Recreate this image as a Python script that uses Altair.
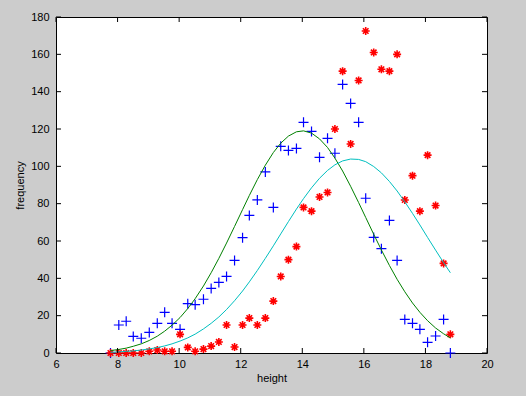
import altair as alt
import pandas as pd
import jinja2

# ---- data ----
x_vals = [7.77, 8.04, 8.28, 8.51, 8.77, 9.03, 9.29, 9.53, 9.77, 10.03,
          10.28, 10.52, 10.79, 11.04, 11.29, 11.54, 11.80, 12.06, 12.28, 12.54,
          12.80, 13.06, 13.30, 13.55, 13.81, 14.04, 14.30, 14.56, 14.82, 15.06,
          15.31, 15.57, 15.83, 16.06, 16.32, 16.57, 16.83, 17.08, 17.33, 17.58,
          17.82, 18.07, 18.33, 18.59, 18.81]

blue_counts = [0, 15, 17, 8.9, 7.9, 11, 15.9, 21.8, 15.9, 12.7,
               26.4, 25.9, 28.8, 34.6, 37.8, 41, 49.6, 61.8, 73.7, 82,
               97, 78, 110.7, 108.5, 109.6, 123.6, 118.7, 104.8, 115, 107,
               143.9, 133.7, 123.6, 82.9, 61.9, 55.9, 71, 49.6, 18, 15.9,
               12.7, 5.7, 9.1, 18, 0]

red_counts = [0, 0, 0, 0, 0, 0.9, 1.6, 0.9, 0.9, 10,
              3, 0.9, 2.1, 3.7, 5.9, 15, 3.2, 15, 18.7, 15,
              18.7, 27.8, 41, 50, 57, 78, 76, 83.6, 86, 120,
              151, 112, 146, 172.5, 161, 152, 151, 160, 82, 95,
              76, 106, 79, 48, 10]

green_fit = [1.3, 1.9, 2.6, 3.6, 4.9, 6.7, 9.0, 11.7, 14.9, 19.0,
             23.8, 29.1, 35.9, 43.0, 50.7, 58.9, 67.8, 76.8, 84.4, 92.9,
             100.6, 107.4, 112.4, 116.2, 118.5, 119.0, 117.8, 114.7, 110.1, 104.4,
             97.5, 89.3, 80.6, 72.6, 63.6, 55.2, 46.9, 39.5, 32.8, 26.8,
             21.8, 17.3, 13.4, 10.3, 8.1]

cyan_fit = [0.4, 0.6, 0.9, 1.1, 1.6, 2.2, 2.9, 3.8, 4.9, 6.4,
            8.1, 10.1, 12.9, 15.9, 19.3, 23.3, 28.0, 33.2, 38.1, 44.2,
            50.7, 57.4, 63.8, 70.4, 77.1, 82.7, 88.5, 93.6, 97.8, 100.8,
            102.9, 103.9, 103.7, 102.5, 99.9, 96.5, 91.9, 86.8, 81.0, 74.8,
            68.6, 61.9, 55.1, 48.4, 43.0]

x_ticks = [6, 8, 10, 12, 14, 16, 18, 20]
y_ticks = [0, 20, 40, 60, 80, 100, 120, 140, 160, 180]

W, H = 431, 336
FONT = "Liberation Sans"
BG = "#cccccc"

df = pd.DataFrame({"height": x_vals, "blue": blue_counts, "red": red_counts,
                   "green": green_fit, "cyan": cyan_fit})
xt = pd.DataFrame({"t": x_ticks})
yt = pd.DataFrame({"t": y_ticks})

xscale = alt.Scale(domain=[6, 20], nice=False, zero=False)
yscale = alt.Scale(domain=[0, 180], nice=False, zero=False)

xaxis = alt.Axis(values=x_ticks, tickSize=0, domain=False, grid=False,
                 labelFont=FONT, labelFontSize=11, labelColor="black",
                 labelPadding=5, labelOverlap=False, labelFlush=False,
                 title="height", titleFont=FONT,
                 titleFontSize=11, titleFontWeight="normal", titleColor="black",
                 titlePadding=3)
yaxis = alt.Axis(values=y_ticks, tickSize=0, domain=False, grid=False,
                 labelFont=FONT, labelFontSize=11, labelColor="black",
                 labelPadding=7, labelOverlap=False, labelFlush=False,
                 title="frequency", titleFont=FONT,
                 titleFontSize=11, titleFontWeight="normal", titleColor="black",
                 titlePadding=5)


def X(field):
    return alt.X(field, scale=xscale, axis=xaxis, title="height")


def Y(field):
    return alt.Y(field, scale=yscale, axis=yaxis, title="frequency")


base = alt.Chart(df)

plus_path = "M -1 0 L 1 0 M 0 -1 L 0 1"
star_path = ("M -1 0 L 1 0 M 0 -1 L 0 1 "
             "M -0.7 -0.7 L 0.7 0.7 M -0.7 0.7 L 0.7 -0.7")

blue_pts = base.mark_point(shape=plus_path, filled=False, color="#0000ff",
                           size=100, strokeWidth=1.2, opacity=1).encode(
    x=X("height:Q"), y=Y("blue:Q"))
red_pts = base.mark_point(shape=star_path, filled=False, color="#ff0000",
                          size=64, strokeWidth=1.6, opacity=1).encode(
    x=X("height:Q"), y=Y("red:Q"))
green_line = base.mark_line(color="#008000", strokeWidth=1).encode(
    x=X("height:Q"), y=Y("green:Q"))
cyan_line = base.mark_line(color="#00bfbf", strokeWidth=1).encode(
    x=X("height:Q"), y=Y("cyan:Q"))

TL = 5
xt_bottom = alt.Chart(xt).mark_rule(color="black", strokeWidth=1).encode(
    x=X("t:Q"), y=alt.value(H), y2=alt.value(H - TL))
xt_top = alt.Chart(xt).mark_rule(color="black", strokeWidth=1).encode(
    x=X("t:Q"), y=alt.value(0), y2=alt.value(TL))
yt_left = alt.Chart(yt).mark_rule(color="black", strokeWidth=1).encode(
    y=Y("t:Q"), x=alt.value(0), x2=alt.value(TL))
yt_right = alt.Chart(yt).mark_rule(color="black", strokeWidth=1).encode(
    y=Y("t:Q"), x=alt.value(W), x2=alt.value(W - TL))

chart = alt.layer(
    blue_pts, red_pts, green_line, cyan_line,
    xt_bottom, xt_top, yt_left, yt_right,
).properties(
    width=W, height=H,
    autosize=alt.AutoSizeParams(type="none"),
    padding={"left": 48, "top": 9, "right": 31, "bottom": 35},
    background=BG,
).configure_view(
    fill="white", stroke="black", strokeWidth=1,
)

# page template: same as the standard one, with the page background grey
PAGE = jinja2.Template("""<!DOCTYPE html>
<html>
<head>
  <style>
    html, body { background: """ + BG + """; }
    #{{ output_div }}.vega-embed { width: 100%; display: flex; }
  </style>
  <script type="text/javascript" src="{{ base_url }}/vega@{{ vega_version }}"></script>
  <script type="text/javascript" src="{{ base_url }}/vega-lite@{{ vegalite_version }}"></script>
  <script type="text/javascript" src="{{ base_url }}/vega-embed@{{ vegaembed_version }}"></script>
</head>
<body>
  <div id="{{ output_div }}"></div>
  <script>
    (function(vegaEmbed) {
      var spec = {{ spec }};
      var embedOpt = {{ embed_options }};
      vegaEmbed("#{{ output_div }}", spec, embedOpt).catch(function(err) {
        document.getElementById("{{ output_div }}").innerHTML = String(err);
      });
    })(vegaEmbed);
  </script>
</body>
</html>
""")

chart.save("out.html", embed_options={"renderer": "svg", "actions": False},
           template=PAGE)
